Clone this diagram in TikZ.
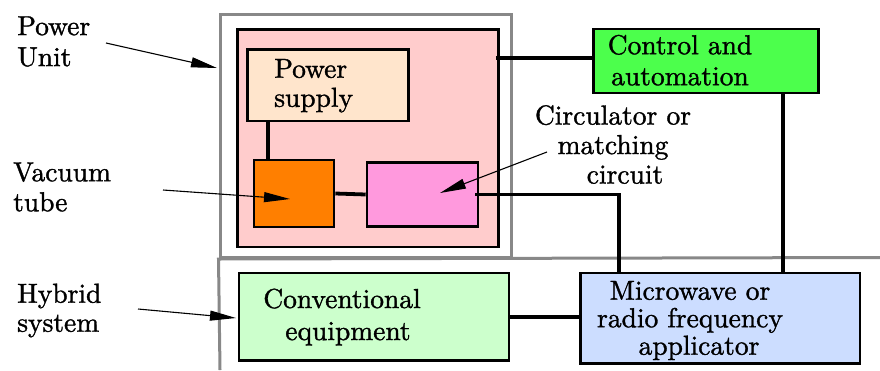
\documentclass[tikz,border=0pt]{standalone}
\usepackage{fontspec}
\newfontfamily\diagfont{lmroman10-regular.otf}[FakeBold=1.2]
\usetikzlibrary{arrows.meta,calc}
\definecolor{pinkbg}{HTML}{FFCCCC}
\definecolor{peach}{HTML}{FFE5CC}
\definecolor{tubeorange}{HTML}{FF7F00}
\definecolor{circmag}{HTML}{FF99DD}
\definecolor{ctrlgreen}{HTML}{4CFF4C}
\definecolor{convgreen}{HTML}{CCFFCC}
\definecolor{mwblue}{HTML}{CCDDFF}
\definecolor{framegray}{HTML}{888888}
\begin{document}
\begin{tikzpicture}[x=1pt,y=-1pt,
  box/.style={draw=black, line width=2.6pt, inner sep=0pt},
  conn/.style={line width=3.8pt},
  gline/.style={draw=framegray, line width=3pt},
  lbl/.style={inner sep=0pt, text=black},
  ptr/.style={line width=1.1pt, -{Triangle[length=26pt,width=10pt]}}]
\useasboundingbox (0,0) rectangle (880,370);
% frames
\node[gline, inner sep=0pt, minimum width=291pt, minimum height=243pt] (unit) at (365.5,136) {};
\coordinate (rEdge) at (880,257.5);
\coordinate (bEdge) at (220,370);
\draw[gline] (bEdge) -- (unit.south west) -- (rEdge);
% boxes
\node[box, fill=pinkbg, minimum width=261pt, minimum height=217.5pt] (pink) at (368,138.25) {};
\node[box, fill=peach, minimum width=161pt, minimum height=71.5pt] (ps) at (328,85.25) {};
\node[box, fill=tubeorange, minimum width=80pt, minimum height=67pt] (vt) at (294,193.5) {};
\node[box, fill=circmag, minimum width=111pt, minimum height=64pt] (mag) at (422.5,194.5) {};
\node[box, fill=ctrlgreen, minimum width=225pt, minimum height=64pt] (ctrl) at (706,61) {};
\node[box, fill=convgreen, minimum width=270pt, minimum height=87.5pt] (conv) at (374,316.75) {};
\node[box, fill=mwblue, minimum width=279.5pt, minimum height=90.5pt] (mw) at (720.25,318.25) {};
% connectors
\coordinate (psv) at ($(vt.north)+(-26,0)$);
\draw[conn] (psv) -- (psv |- ps.south);
\draw[conn] (vt.east) -- (mag.west);
\coordinate (magout) at ($(mag.east)+(-4,0)$);
\coordinate (mwin) at ($(mw.north)+(-101,0)$);
\draw[conn] (magout) -| (mwin);
\coordinate (pinkout) at ($(ctrl.west -| pink.east)+(-4,-3)$);
\draw[conn] (pinkout) -- (pinkout -| ctrl.west);
\coordinate (ctrlout) at ($(ctrl.south)+(77,0)$);
\draw[conn] (ctrlout) -- (ctrlout |- mw.north);
\draw[conn] (conv.east) -- (conv.east -| mw.west);
% texts in boxes
\node[lbl, anchor=west, align=left, font=\diagfont\fontsize{27.5}{29}\selectfont] (pstext) at (274,85.7) {Power\\supply};
\node[lbl, align=center, font=\diagfont\fontsize{27.5}{31}\selectfont] (ctrltext) at (680,60.2) {Control and\\automation};
\node[lbl, align=center, font=\diagfont\fontsize{27.5}{32}\selectfont] (convtext) at (342,317) {Conventional\\\hspace*{12pt}equipment};
\node[lbl, align=center, font=\diagfont\fontsize{27.5}{27.5}\selectfont] (mwtext) at (690,320.5) {Microwave or\\radio frequency\\\hspace*{18pt}applicator};
% outside labels
\node[lbl, anchor=west, align=left, font=\diagfont\fontsize{27.5}{31}\selectfont] (pulbl) at (17,41.5) {Power\\Unit};
\node[lbl, anchor=west, align=left, font=\diagfont\fontsize{27.5}{30}\selectfont] (vtlbl) at (13,187) {Vacuum\\tube};
\node[lbl, anchor=west, align=left, font=\diagfont\fontsize{27.5}{29}\selectfont] (hylbl) at (17,310.5) {Hybrid\\system};
\node[lbl, align=center, font=\diagfont\fontsize{27.5}{29.5}\selectfont] (cilbl) at (613,144.5) {Circulator or\\matching\\\hspace*{24pt}circuit};
% pointers
\coordinate (pu0) at (106,43);
\coordinate (pu1) at (217,68);
\draw[ptr] (pu0) -- (pu1);
\coordinate (vt0) at (163,190);
\coordinate (vt1) at (290,199);
\draw[ptr] (vt0) -- (vt1);
\coordinate (ci0) at (547,152);
\coordinate (ci1) at (440,193);
\draw[ptr] (ci0) -- (ci1);
\coordinate (hy0) at (138,309);
\coordinate (hy1) at (236,318);
\draw[ptr] (hy0) -- (hy1);
\end{tikzpicture}
\end{document}
